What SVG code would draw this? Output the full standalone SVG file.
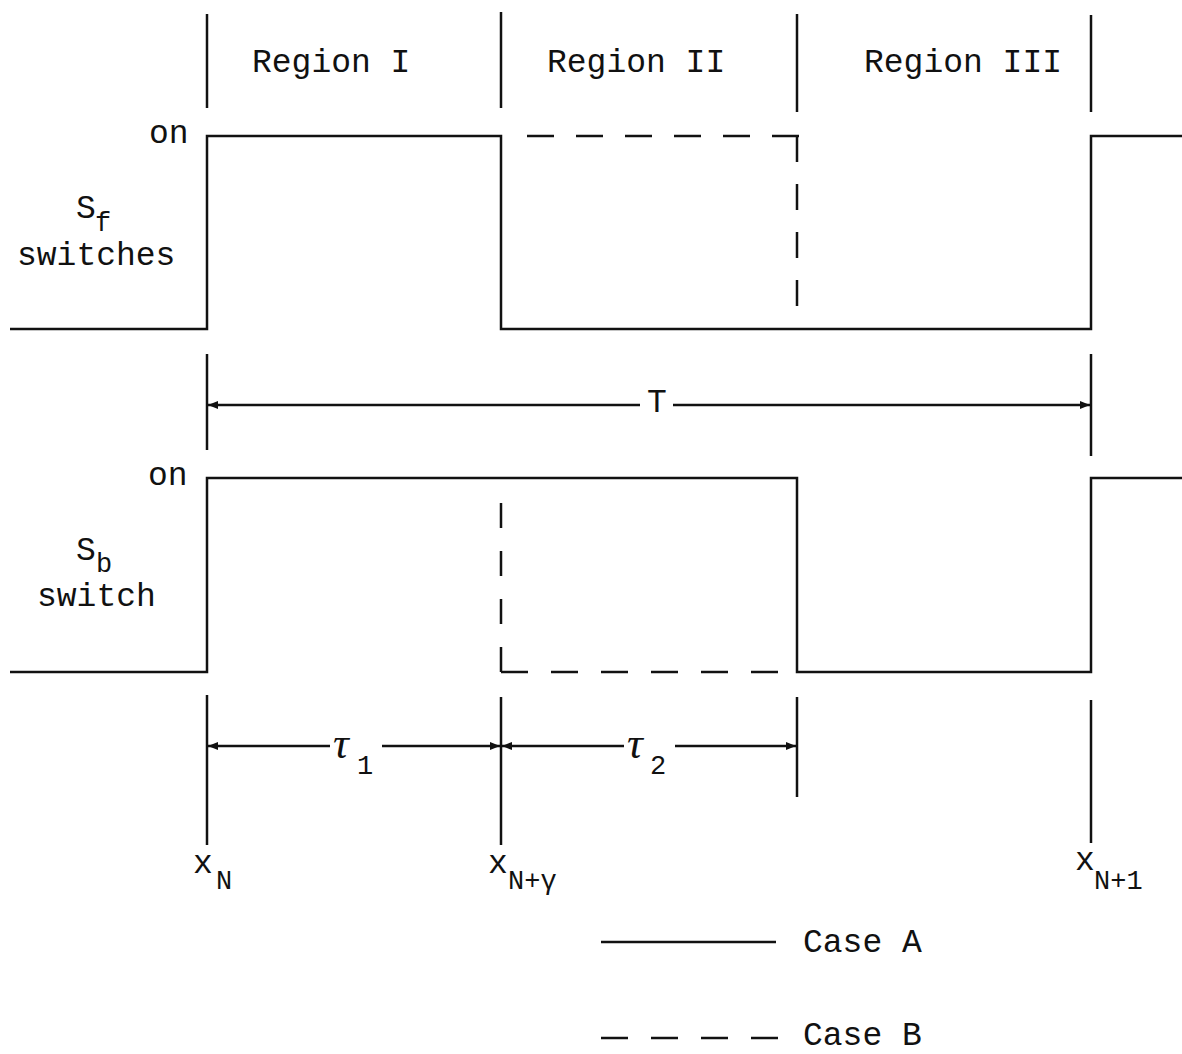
<svg xmlns="http://www.w3.org/2000/svg" width="1182" height="1054" viewBox="0 0 1182 1054">
<style>
.ln{fill:none;stroke:#111;stroke-width:2.5;stroke-linecap:butt;stroke-linejoin:miter}
.dh{fill:none;stroke:#111;stroke-width:2.5}
.t{font-family:"Liberation Mono","DejaVu Sans Mono",monospace;font-size:33px;fill:#111}
.s{font-family:"Liberation Mono","DejaVu Sans Mono",monospace;font-size:27px;fill:#111}
.g{font-family:"Liberation Serif","DejaVu Serif",serif;font-style:italic;font-size:44px;fill:#111}
</style>
<defs>
<marker id="ah" viewBox="0 0 10 8" refX="10" refY="4" markerWidth="10" markerHeight="8" markerUnits="userSpaceOnUse" orient="auto-start-reverse">
<path d="M0,0 L10,4 L0,8 Z" fill="#111"/>
</marker>
</defs>
<rect width="1182" height="1054" fill="#fff"/>

<g id="dividers">
<line class="ln" x1="207" y1="14" x2="207" y2="108"/>
<line class="ln" x1="501" y1="12" x2="501" y2="108"/>
<line class="ln" x1="797" y1="14" x2="797" y2="112"/>
<line class="ln" x1="1091" y1="15" x2="1091" y2="112"/>
<line class="ln" x1="207" y1="354" x2="207" y2="450"/>
<line class="ln" x1="1091" y1="354" x2="1091" y2="456"/>
<line class="ln" x1="207" y1="695" x2="207" y2="845"/>
<line class="ln" x1="501" y1="697" x2="501" y2="845"/>
<line class="ln" x1="797" y1="697" x2="797" y2="797"/>
<line class="ln" x1="1091" y1="700" x2="1091" y2="843"/>
</g>

<g id="region-labels">
<text class="t" x="252" y="72">Region I</text>
<text class="t" x="547" y="72">Region II</text>
<text class="t" x="864" y="72">Region III</text>
</g>

<g id="sf-switches">
<path class="ln" d="M10,329 H207 V136 H501 V329 H1091 V136 H1182"/>
<line class="dh" x1="527" y1="136" x2="799" y2="136" stroke-dasharray="27 22"/>
<line class="dh" x1="797" y1="136" x2="797" y2="308" stroke-dasharray="26 22"/>
<text class="t" x="149" y="143">on</text>
<text class="t" x="76" y="218">S</text>
<text class="s" x="95" y="231">f</text>
<text class="t" x="17" y="265">switches</text>
</g>

<g id="sb-switch">
<path class="ln" d="M10,672 H207 V478 H797 V672 H1091 V478 H1182"/>
<line class="dh" x1="501" y1="503" x2="501" y2="672" stroke-dasharray="25 23"/>
<line class="dh" x1="501" y1="672" x2="778" y2="672" stroke-dasharray="27 23"/>
<text class="t" x="148" y="485">on</text>
<text class="t" x="76" y="560">S</text>
<text class="s" x="96" y="572">b</text>
<text class="t" x="37" y="606">switch</text>
</g>

<g id="connectors">
<line class="ln" x1="640" y1="405" x2="208" y2="405" marker-end="url(#ah)"/>
<line class="ln" x1="673" y1="405" x2="1090" y2="405" marker-end="url(#ah)"/>
<line class="ln" x1="330" y1="746" x2="208" y2="746" marker-end="url(#ah)"/>
<line class="ln" x1="382" y1="746" x2="500" y2="746" marker-end="url(#ah)"/>
<line class="ln" x1="624" y1="746" x2="502" y2="746" marker-end="url(#ah)"/>
<line class="ln" x1="675" y1="746" x2="796" y2="746" marker-end="url(#ah)"/>
</g>

<g id="interval-labels">
<text class="t" x="647" y="412">T</text>
<text class="g" x="333" y="758">τ</text>
<text class="s" x="357" y="774">1</text>
<text class="g" x="627" y="758">τ</text>
<text class="s" x="650" y="774">2</text>
</g>

<g id="x-labels">
<text class="t" x="193" y="873">x</text>
<text class="s" x="216" y="889">N</text>
<text class="t" x="488" y="873">x</text>
<text class="s" x="508" y="889">N+γ</text>
<text class="t" x="1075" y="870">x</text>
<text class="s" x="1094" y="889">N+1</text>
</g>

<g id="legend">
<line class="ln" x1="601" y1="942" x2="776" y2="942"/>
<text class="t" x="803" y="952">Case A</text>
<line class="dh" x1="601" y1="1038" x2="778" y2="1038" stroke-dasharray="27 23"/>
<text class="t" x="803" y="1045">Case B</text>
</g>
</svg>
